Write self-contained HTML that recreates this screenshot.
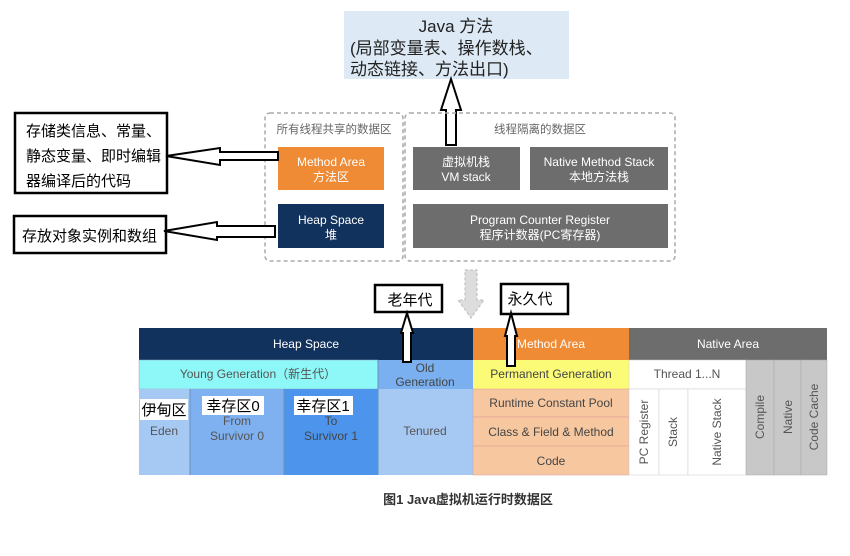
<!DOCTYPE html>
<html><head><meta charset="utf-8"><style>
body{margin:0;background:#fff;}
svg text{font-family:"Liberation Sans","Noto Sans CJK SC",sans-serif;}
</style></head><body>
<svg width="850" height="551" viewBox="0 0 850 551" xmlns="http://www.w3.org/2000/svg">
<rect x="344" y="11" width="225" height="68" fill="#dde9f5"/>
<text x="456" y="32" font-size="17" text-anchor="middle" fill="#222">Java 方法</text>
<text x="350" y="54" font-size="17" fill="#222">(局部变量表、操作数栈、</text>
<text x="350" y="75" font-size="17" fill="#222">动态链接、方法出口)</text>
<polygon points="451,79 441,110 446,110 446,145 456,145 456,110 461,110" fill="#fff" stroke="#000" stroke-width="2"/>
<rect x="265" y="113" width="138" height="148" rx="5" fill="none" stroke="#aaa" stroke-dasharray="4,3" stroke-width="1.5"/>
<rect x="405" y="113" width="270" height="148" rx="5" fill="none" stroke="#aaa" stroke-dasharray="4,3" stroke-width="1.5"/>
<text x="334" y="133" font-size="11.5" text-anchor="middle" fill="#666">所有线程共享的数据区</text>
<text x="540" y="133" font-size="11.5" text-anchor="middle" fill="#666">线程隔离的数据区</text>
<rect x="278" y="147" width="106" height="43" fill="#ef8a35"/>
<text x="331" y="166" font-size="12" text-anchor="middle" fill="#fff">Method Area</text>
<text x="331" y="181" font-size="12" text-anchor="middle" fill="#fff">方法区</text>
<rect x="278" y="204" width="106" height="44" fill="#12325e"/>
<text x="331" y="224" font-size="12" text-anchor="middle" fill="#fff">Heap Space</text>
<text x="331" y="239" font-size="12" text-anchor="middle" fill="#fff">堆</text>
<rect x="413" y="147" width="107" height="43" fill="#6d6d6d"/>
<text x="466" y="166" font-size="12" text-anchor="middle" fill="#fff">虚拟机栈</text>
<text x="466" y="181" font-size="12" text-anchor="middle" fill="#fff">VM stack</text>
<rect x="530" y="147" width="138" height="43" fill="#6d6d6d"/>
<text x="599" y="166" font-size="12" text-anchor="middle" fill="#fff">Native Method Stack</text>
<text x="599" y="181" font-size="12" text-anchor="middle" fill="#fff">本地方法栈</text>
<rect x="413" y="204" width="255" height="44" fill="#6d6d6d"/>
<text x="540" y="224" font-size="12" text-anchor="middle" fill="#fff">Program Counter Register</text>
<text x="540" y="239" font-size="12" text-anchor="middle" fill="#fff">程序计数器(PC寄存器)</text>
<rect x="15" y="113" width="152" height="80" fill="#fff" stroke="#000" stroke-width="2.5"/>
<text x="26" y="136" font-size="15" fill="#000">存储类信息、常量、</text>
<text x="26" y="161" font-size="15" fill="#000">静态变量、即时编辑</text>
<text x="26" y="186" font-size="15" fill="#000">器编译后的代码</text>
<rect x="14" y="216" width="152" height="37" fill="#fff" stroke="#000" stroke-width="2.5"/>
<text x="22" y="241" font-size="15" fill="#000">存放对象实例和数组</text>
<polygon points="166,156 220,148 220,152 278,152 278,160 220,160 220,165" fill="#fff" stroke="#000" stroke-width="2"/>
<polygon points="164,231 217,222 217,226 275,226 275,237 217,237 217,240" fill="#fff" stroke="#000" stroke-width="2"/>
<polygon points="465,270 477,270 477,300 484,300 471,318 458,300 465,300" fill="#ddd" stroke="#bbb" stroke-dasharray="3,2"/>
<rect x="139" y="328" width="334" height="32" fill="#12325e"/>
<text x="306" y="348" font-size="12" text-anchor="middle" fill="#fff">Heap Space</text>
<rect x="473" y="328" width="156" height="32" fill="#ef8a35"/>
<text x="551" y="348" font-size="12" text-anchor="middle" fill="#fff">Method Area</text>
<rect x="629" y="328" width="198" height="32" fill="#6d6d6d"/>
<text x="728" y="348" font-size="12" text-anchor="middle" fill="#fff">Native Area</text>
<rect x="139" y="360" width="239" height="29" fill="#8ef7f7" stroke="#9ab" stroke-width="0.5"/>
<text x="258" y="378" font-size="12" text-anchor="middle" fill="#555">Young Generation（新生代）</text>
<rect x="378" y="360" width="95" height="29" fill="#7ab0ef"/>
<text x="425" y="372" font-size="12" text-anchor="middle" fill="#444">Old</text>
<text x="425" y="386" font-size="12" text-anchor="middle" fill="#444">Generation</text>
<rect x="473" y="360" width="156" height="29" fill="#fbfb78"/>
<text x="551" y="378" font-size="12" text-anchor="middle" fill="#444">Permanent Generation</text>
<rect x="629" y="360" width="117" height="29" fill="#fff" stroke="#ccc" stroke-width="0.5"/>
<text x="687" y="378" font-size="12" text-anchor="middle" fill="#555">Thread 1...N</text>
<rect x="139" y="389" width="51" height="86" fill="#a6c9f4"/>
<rect x="190" y="389" width="94" height="86" fill="#7fb0ef"/>
<rect x="284" y="389" width="94" height="86" fill="#4d95ec"/>
<rect x="378" y="389" width="95" height="86" fill="#a6c9f4"/>
<line x1="190" y1="389" x2="190" y2="475" stroke="#6890c0"/>
<line x1="284" y1="389" x2="284" y2="475" stroke="#6890c0"/>
<line x1="378" y1="360" x2="378" y2="475" stroke="#6890c0"/>
<text x="164" y="435" font-size="12" text-anchor="middle" fill="#555">Eden</text>
<text x="237" y="425" font-size="12" text-anchor="middle" fill="#555">From</text>
<text x="237" y="440" font-size="12" text-anchor="middle" fill="#555">Survivor 0</text>
<text x="331" y="425" font-size="12" text-anchor="middle" fill="#444">To</text>
<text x="331" y="440" font-size="12" text-anchor="middle" fill="#444">Survivor 1</text>
<text x="425" y="435" font-size="12" text-anchor="middle" fill="#555">Tenured</text>
<rect x="473" y="389" width="156" height="28" fill="#f7c8a0" stroke="#d99" stroke-width="0.5"/>
<rect x="473" y="417" width="156" height="29" fill="#f7c8a0" stroke="#d99" stroke-width="0.5"/>
<rect x="473" y="446" width="156" height="29" fill="#f7c8a0" stroke="#d99" stroke-width="0.5"/>
<text x="551" y="407" font-size="12" text-anchor="middle" fill="#444">Runtime Constant Pool</text>
<text x="551" y="436" font-size="12" text-anchor="middle" fill="#444">Class &amp; Field &amp; Method</text>
<text x="551" y="465" font-size="12" text-anchor="middle" fill="#444">Code</text>
<rect x="629" y="389" width="30" height="86" fill="#fff" stroke="#ccc" stroke-width="0.5"/>
<rect x="659" y="389" width="29" height="86" fill="#fff" stroke="#ccc" stroke-width="0.5"/>
<rect x="688" y="389" width="58" height="86" fill="#fff" stroke="#ccc" stroke-width="0.5"/>
<rect x="746" y="360" width="28" height="115" fill="#c8c8c8" stroke="#aaa" stroke-width="0.5"/>
<rect x="774" y="360" width="27" height="115" fill="#c8c8c8" stroke="#aaa" stroke-width="0.5"/>
<rect x="801" y="360" width="26" height="115" fill="#c8c8c8" stroke="#aaa" stroke-width="0.5"/>
<g font-size="12" fill="#555">
<text transform="translate(648,432) rotate(-90)" text-anchor="middle">PC Register</text>
<text transform="translate(677,432) rotate(-90)" text-anchor="middle">Stack</text>
<text transform="translate(721,432) rotate(-90)" text-anchor="middle">Native Stack</text>
<text transform="translate(764,417) rotate(-90)" text-anchor="middle">Compile</text>
<text transform="translate(792,417) rotate(-90)" text-anchor="middle">Native</text>
<text transform="translate(818,417) rotate(-90)" text-anchor="middle">Code Cache</text>
</g>
<rect x="140" y="399" width="48" height="21" fill="#fff"/>
<text x="164" y="415" font-size="15" text-anchor="middle" fill="#000">伊甸区</text>
<rect x="202" y="396" width="62" height="19" fill="#fff"/>
<text x="233" y="411" font-size="15" text-anchor="middle" fill="#000">幸存区0</text>
<rect x="294" y="396" width="59" height="19" fill="#fff"/>
<text x="323" y="411" font-size="15" text-anchor="middle" fill="#000">幸存区1</text>
<rect x="375" y="285" width="67" height="27" fill="#fff" stroke="#000" stroke-width="2.5"/>
<text x="410" y="305" font-size="15" text-anchor="middle" fill="#000">老年代</text>
<rect x="501" y="284" width="67" height="30" fill="#fff" stroke="#000" stroke-width="2.5"/>
<text x="530" y="304" font-size="15" text-anchor="middle" fill="#000">永久代</text>
<polygon points="407,313 401,333 403,333 403,362 411,362 411,333 413,333" fill="#fff" stroke="#000" stroke-width="2"/>
<polygon points="511,313 505,336 507,336 507,366 515,366 515,336 517,336" fill="#fff" stroke="#000" stroke-width="2"/>
<text x="468" y="504" font-size="13" text-anchor="middle" fill="#333" font-weight="bold">图1  Java虚拟机运行时数据区</text>
</svg>
</body></html>
